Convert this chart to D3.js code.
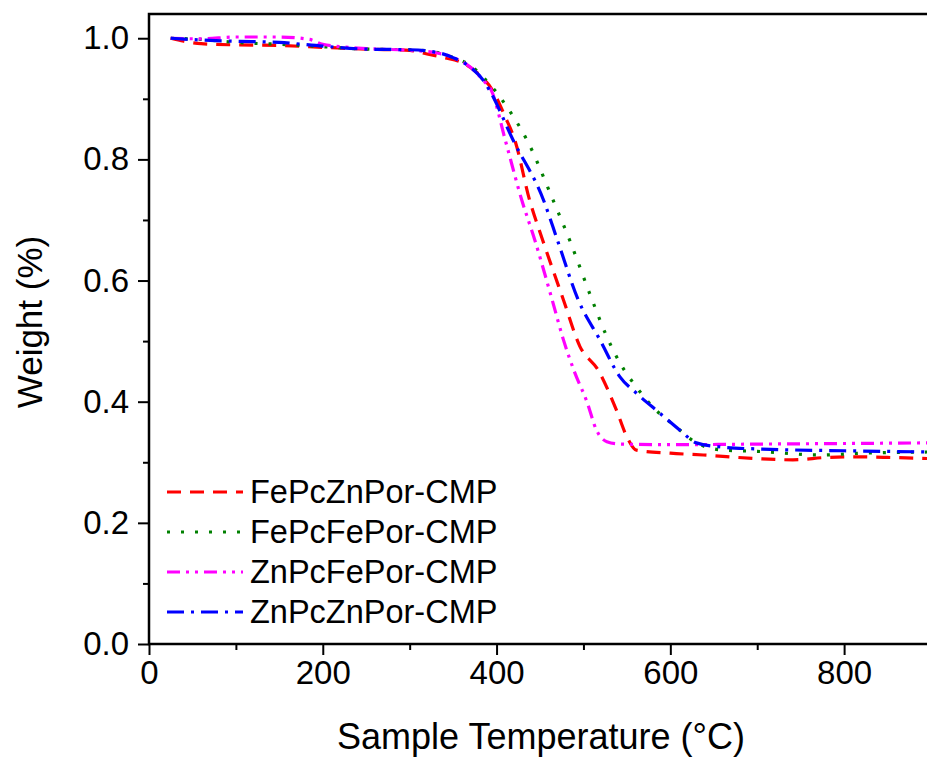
<!DOCTYPE html>
<html>
<head>
<meta charset="utf-8">
<script src="https://cdn.jsdelivr.net/npm/d3@7"></script>
<style>
  html, body { margin: 0; padding: 0; background: #fff; }
  svg { display: block; font-family: "Liberation Sans", Arial, sans-serif; }
</style>
</head>
<body>
<svg id="chart" width="927" height="759"></svg>
<script>
// ---- data ----
const seriesNames = ["FePcZnPor-CMP", "FePcFePor-CMP", "ZnPcFePor-CMP", "ZnPcZnPor-CMP"];
const seriesColors = ["#ff0000", "#008000", "#ff00ff", "#0000ff"];
const seriesDashes = ["14,9", "3,11", "13,6,3,6,3,6", "17,7,3,7"];

const tempFePcZnPor = [25, 40, 60, 100, 150, 200, 250, 300, 320, 340, 360, 380, 395, 410, 421, 438, 453, 477, 496, 517, 538, 550, 561, 600, 638, 700, 741, 780, 810, 850, 900];
const wFePcZnPor    = [1.000, 0.995, 0.991, 0.989, 0.988, 0.985, 0.982, 0.980, 0.974, 0.968, 0.960, 0.940, 0.915, 0.870, 0.832, 0.733, 0.667, 0.568, 0.491, 0.452, 0.386, 0.342, 0.320, 0.315, 0.312, 0.306, 0.304, 0.308, 0.309, 0.308, 0.306];

const tempFePcFePor = [25, 60, 100, 150, 200, 250, 300, 330, 350, 370, 385, 398, 415, 435, 465, 484, 510, 527, 542, 561, 580, 607, 630, 661, 700, 772, 820, 900];
const wFePcFePor    = [1.000, 0.998, 0.993, 0.990, 0.986, 0.982, 0.981, 0.977, 0.968, 0.955, 0.935, 0.914, 0.880, 0.832, 0.733, 0.667, 0.568, 0.507, 0.464, 0.424, 0.391, 0.358, 0.332, 0.320, 0.318, 0.312, 0.315, 0.317];

const tempZnPcFePor = [25, 60, 100, 150, 185, 200, 250, 300, 330, 350, 370, 385, 394, 410, 429, 444, 464, 477, 490, 504, 515, 527, 542, 600, 700, 800, 900];
const wZnPcFePor    = [1.000, 0.999, 1.002, 1.002, 0.998, 0.990, 0.983, 0.980, 0.976, 0.968, 0.952, 0.930, 0.914, 0.832, 0.733, 0.667, 0.568, 0.502, 0.448, 0.400, 0.353, 0.334, 0.330, 0.329, 0.330, 0.331, 0.332];

const tempZnPcZnPor = [25, 60, 100, 150, 200, 250, 300, 330, 350, 370, 385, 392, 419, 454, 470, 494, 519, 542, 561, 588, 611, 630, 660, 700, 800, 900];
const wZnPcZnPor    = [1.000, 0.997, 0.995, 0.993, 0.987, 0.982, 0.981, 0.977, 0.968, 0.952, 0.930, 0.914, 0.832, 0.733, 0.667, 0.568, 0.502, 0.441, 0.414, 0.381, 0.353, 0.332, 0.325, 0.322, 0.319, 0.317];

const xMajorTicks = [0, 200, 400, 600, 800];
const xMinorTicks = [100, 300, 500, 700, 900];
const yMajorTicks = [0.0, 0.2, 0.4, 0.6, 0.8, 1.0];
const yMinorTicks = [0.1, 0.3, 0.5, 0.7, 0.9];
const xTitle = "Sample Temperature (°C)";
const yTitle = "Weight (%)";

// ---- layout ----
const svg = d3.select("#chart");
const pL = 149, pR = 931, pT = 14, pB = 644;
const x = d3.scaleLinear().domain([0, 900]).range([pL, pR]);
const y = d3.scaleLinear().domain([0, 1.04]).range([pB, pT]);

const series = [
  { t: tempFePcZnPor, w: wFePcZnPor },
  { t: tempFePcFePor, w: wFePcFePor },
  { t: tempZnPcFePor, w: wZnPcFePor },
  { t: tempZnPcZnPor, w: wZnPcZnPor }
].map((s, i) => ({
  name: seriesNames[i], color: seriesColors[i], dash: seriesDashes[i],
  points: s.t.map((tv, j) => [tv, s.w[j]])
}));

svg.append("defs").append("clipPath").attr("id", "plotclip")
  .append("rect").attr("x", pL).attr("y", pT).attr("width", pR - pL).attr("height", pB - pT);

const line = d3.line().x(d => x(d[0])).y(d => y(d[1])).curve(d3.curveMonotoneX);

const g = svg.append("g").attr("clip-path", "url(#plotclip)");
series.forEach(s => {
  g.append("path")
    .datum(s.points)
    .attr("d", line)
    .attr("fill", "none")
    .attr("stroke", s.color)
    .attr("stroke-width", 3.2)
    .attr("stroke-dasharray", s.dash);
});

const fs = 33;
const xAxis = d3.axisBottom(x).tickValues(xMajorTicks).tickSize(11).tickPadding(6).tickFormat(d3.format("d"));
const xAxisMinor = d3.axisBottom(x).tickValues(xMinorTicks).tickSize(6).tickFormat("");
const yAxis = d3.axisLeft(y).tickValues(yMajorTicks).tickSize(11).tickPadding(9).tickFormat(d3.format(".1f"));
const yAxisMinor = d3.axisLeft(y).tickValues(yMinorTicks).tickSize(6).tickFormat("");

function styleAxis(sel) {
  sel.selectAll(".domain").remove();
  sel.selectAll(".tick line").attr("stroke", "#000").attr("stroke-width", 2);
  sel.selectAll(".tick text").attr("fill", "#000").style("font-size", fs + "px")
    .style("font-family", "'Liberation Sans', Arial, sans-serif");
}
svg.append("g").attr("transform", `translate(0,${pB})`).call(xAxis).call(styleAxis);
svg.append("g").attr("transform", `translate(0,${pB})`).call(xAxisMinor).call(styleAxis);
svg.append("g").attr("transform", `translate(${pL},0)`).call(yAxis).call(styleAxis);
svg.append("g").attr("transform", `translate(${pL},0)`).call(yAxisMinor).call(styleAxis);

svg.append("rect").attr("x", pL).attr("y", pT).attr("width", pR - pL).attr("height", pB - pT)
  .attr("fill", "none").attr("stroke", "#000").attr("stroke-width", 2.5);

svg.append("text").attr("x", 541).attr("y", 749).attr("text-anchor", "middle")
  .style("font-size", "36px").attr("fill", "#000").text(xTitle);
svg.append("text").attr("transform", `translate(42,322) rotate(-90)`).attr("text-anchor", "middle")
  .style("font-size", "35px").attr("fill", "#000").text(yTitle);

const legY0 = 492, legDy = 40;
series.forEach((s, i) => {
  const yy = legY0 + i * legDy;
  svg.append("line").attr("x1", 167).attr("x2", 243).attr("y1", yy).attr("y2", yy)
    .attr("stroke", s.color).attr("stroke-width", 3.2).attr("stroke-dasharray", s.dash);
  svg.append("text").attr("x", 250).attr("y", yy + 11).style("font-size", "32.5px").attr("fill", "#000").text(s.name);
});
</script>
</body>
</html>
